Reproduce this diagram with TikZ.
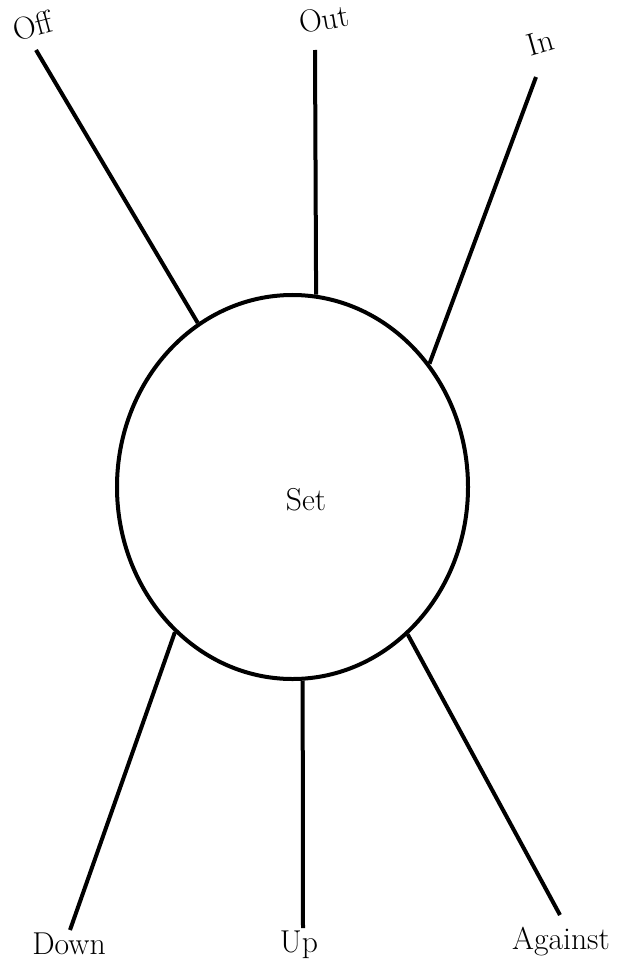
\documentclass[tikz,border=0pt]{standalone}
\usepackage{tikz}
\usetikzlibrary{shapes.geometric}

\tikzset{
  word/.style={inner sep=0pt, font=\fontsize{22.5}{27}\selectfont},
  spoke/.style={line width=1mm}
}

\begin{document}
\begin{tikzpicture}[x=0.25mm, y=-0.25mm, every node/.style={font=\small}]
  \useasboundingbox (0,0) rectangle (623,967);
  \node[draw, ellipse, line width=1mm, inner sep=0pt, minimum width=87.75mm, minimum height=96mm] (set) at (292.5,487) {};
  \node[word] (setlabel) at (306,500) {Set};
  % particles round the verb
  \node[word, rotate=15] (off) at (33,26) {Off};
  \node[word, rotate=10] (out) at (324,19) {Out};
  \node[word, rotate=16] (in) at (540,42) {In};
  \node[word, anchor=base] (down) at (69,954) {Down};
  \node[word, anchor=base] (up) at (299,952) {Up};
  \node[word, anchor=base] (against) at (561,949) {Against};
  % free ends of the spokes
  \coordinate (offend) at (36,50);
  \coordinate (outend) at (315,50);
  \coordinate (inend) at (536,77);
  \coordinate (downend) at (70,930);
  \coordinate (upend) at (303,928);
  \coordinate (againstend) at (560,915);
  \draw[spoke] (offend) -- (set.120.6);
  \draw[spoke] (outend) -- (set.83.2);
  \draw[spoke] (inend) -- (set.42.6);
  \draw[spoke] (downend) -- (set.231);
  \draw[spoke] (upend) -- (set.273.3);
  \draw[spoke] (againstend) -- (set.308.2);
\end{tikzpicture}
\end{document}
